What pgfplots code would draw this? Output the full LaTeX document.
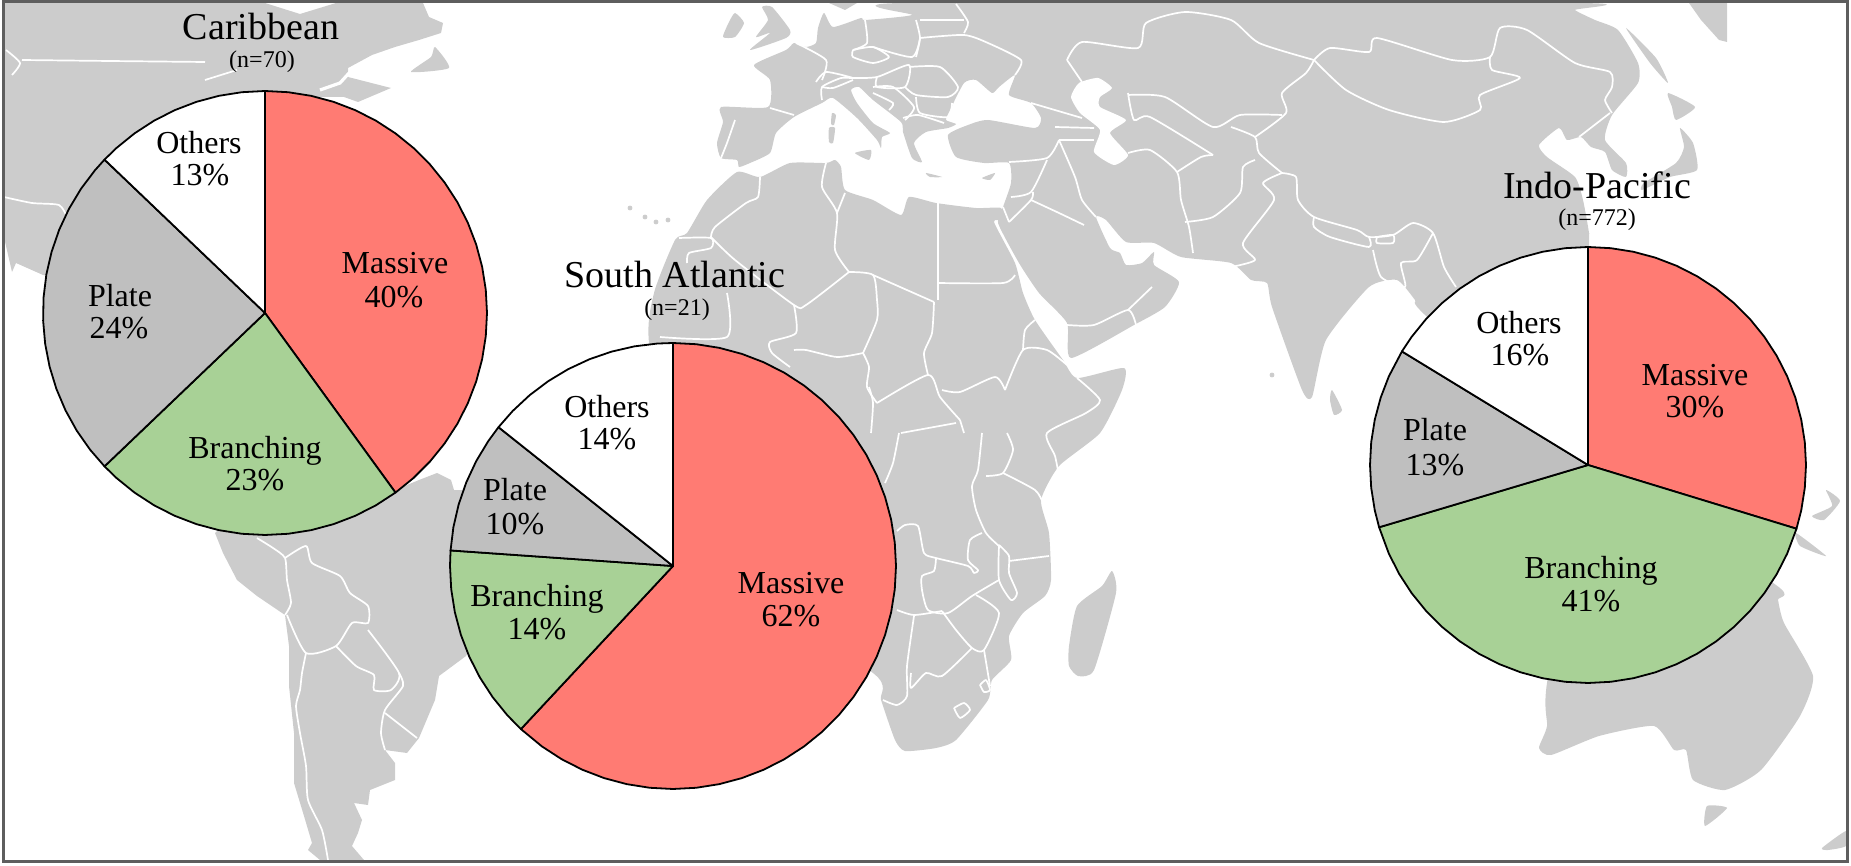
\documentclass[border=0pt]{standalone}
\usepackage{fontspec}
\setmainfont{Liberation Serif}
\usepackage{pgfplots}
\pgfplotsset{compat=1.18}
\definecolor{land}{HTML}{CCCCCC}
\definecolor{massive}{HTML}{FF7B73}
\definecolor{branching}{HTML}{A8D196}
\definecolor{plate}{HTML}{BFBFBF}
\definecolor{framegray}{HTML}{5E5E5E}
% one picture pixel = 0.5pt
\pgfplotsset{
  pxaxis/.style={scale only axis,width=925.5pt,height=433pt,xmin=0,xmax=1851,ymin=0,ymax=866,
    y dir=reverse,hide axis,at={(0pt,0pt)},anchor=south west},
  pieaxis/.style={scale only axis,width=#1,height=#1,xmin=-1,xmax=1,ymin=-1,ymax=1,
    hide axis,clip=false,anchor=center},
  wedge/.style={draw=black,line width=0.9pt,line join=round,data cs=polar},
  lnd/.style={fill=land,draw=none,/tikz/smooth cycle,/tikz/tension=0.35},
  bord/.style={white,line width=0.85pt,line join=round,smooth,tension=0.4},
  sea/.style={fill=white,draw=none,/tikz/smooth cycle,/tikz/tension=0.35},
}
\newcommand{\bd}[1]{\addplot[bord] coordinates {#1};}
\newcommand{\isl}[1]{\addplot[lnd] coordinates {#1};}
\tikzset{
  lab/.style={font=\fontsize{16}{18}\selectfont,text height=0.7em,text depth=0.2em,inner sep=0pt,yshift=-3pt},
  ttl/.style={font=\fontsize{19}{21}\selectfont,inner sep=0pt},
  sub/.style={font=\fontsize{12}{14}\selectfont,inner sep=0pt},
}
\begin{document}
\begin{tikzpicture}
\useasboundingbox (0,0) rectangle (925.5pt,433pt);
% ---- map
\begin{axis}[pxaxis]
% North America
\addplot[fill=land,draw=none] coordinates {(3,3)(265,3)(300,14)(336,3)(423,3)(429,17)(443,23)(441,33)(419,40)(395,47)(372,55)(348,68)(348,77)(391,88)(358,102)(344,97)(316,97)(265,313)(43,275)(16,263)(12,272)(3,233)} -- cycle;
\isl{(435,47)(449,68)(411,72)(431,57)}
% South America
\addplot[fill=land,draw=none] coordinates {(215,533)(223,553)(237,580)(257,596)(285,615)(289,646)(289,686)(294,733)(294,783)(304,816)(312,843)(308,850)(320,860)(364,860)(352,846)(358,833)(362,820)(354,803)(368,805)(370,790)(395,780)(395,763)(385,750)(407,753)(419,738)(435,700)(439,676)(466,656)(520,560)(500,480)(466,490)(454,490)(451,480)(437,473)(419,480)(395,490)(300,450)} -- cycle;
% Africa
\isl{(737,172)(760,177)(790,163)(826,163)(835,160)(841,167)(845,190)(873,200)(901,215)(909,197)(936,203)(976,208)(1001,208)(1003,220)(994,222)(1015,263)(1023,293)(1035,320)(1063,360)(1077,378)(1124,368)(1122,390)(1100,433)(1059,466)(1041,500)(1049,533)(1051,580)(1045,596)(1023,613)(1009,636)(1011,660)(992,680)(988,700)(956,740)(936,748)(905,751)(895,740)(881,700)(873,673)(700,560)(650,350)(654,293)(675,240)(687,233)(707,200)}
% Eurasia
\isl{(901,3)(912,15)(865,20)(861,18)(833,27)(824,13)(818,28)(816,43)(806,47)(794,43)(786,50)(754,65)(770,80)(768,107)(721,107)(723,122)(717,143)(721,158)(737,160)(739,167)(750,163)(770,153)(776,133)(794,117)(822,103)(833,98)(857,118)(877,140)(881,148)(882,137)(890,133)(873,123)(857,103)(851,90)(859,87)(873,100)(901,122)(903,132)(912,158)(922,162)(914,143)(926,132)(948,128)(956,124)(946,120)(950,110)(964,83)(976,80)(992,93)(999,87)(1015,75)(1009,95)(1031,103)(1041,118)(1035,128)(988,120)(968,125)(948,135)(956,157)(984,163)(1009,163)(1011,183)(1003,207)(998,223)(1019,263)(1039,293)(1067,323)(1071,358)(1134,325)(1165,307)(1179,282)(1154,265)(1154,252)(1142,263)(1126,265)(1120,253)(1110,248)(1096,217)(1106,220)(1126,242)(1154,243)(1181,257)(1231,263)(1251,280)(1267,283)(1272,307)(1302,390)(1312,397)(1326,340)(1369,287)(1397,280)(1415,300)(1425,315)(1588,465)(1589,247)(1589,233)(1583,200)(1575,177)(1547,157)(1539,145)(1559,128)(1567,140)(1581,137)(1591,147)(1605,152)(1612,170)(1626,177)(1626,163)(1605,140)(1612,115)(1638,83)(1638,63)(1618,30)(1595,20)(1575,10)(1579,3)}
% islands
\addplot[fill=land,draw=none] coordinates {(1689,3)(1727,3)(1727,42)(1719,40)(1701,20)} -- cycle;
\isl{(1626,28)(1656,58)(1668,83)(1650,63)}
\isl{(1668,93)(1695,107)(1676,120)(1672,107)}
\isl{(1680,128)(1693,143)(1697,170)(1670,177)(1642,190)(1644,183)(1676,163)(1684,147)}
\isl{(1332,390)(1342,410)(1334,415)(1330,400)}
\isl{(1112,571)(1116,593)(1094,670)(1078,676)(1069,666)(1069,646)(1077,606)(1102,586)}
\isl{(982,178)(995,173)(990,180)}
\isl{(926,173)(942,177)(930,177)}
\isl{(855,153)(871,150)(869,160)}
\isl{(829,128)(835,128)(833,143)(829,142)}
\isl{(832,113)(836,115)(834,125)(831,124)}
\isl{(762,7)(772,7)(790,30)(786,38)(750,50)(770,33)(756,37)(768,20)}
\isl{(735,13)(744,23)(735,37)(723,37)(729,22)}
\addplot[fill=land,draw=none] coordinates {(829,3)(857,3)(845,10)} -- cycle;
% Australia and the islands east of it
\isl{(1547,683)(1547,726)(1539,748)(1551,755)(1599,736)(1654,726)(1674,750)(1686,750)(1693,780)(1725,790)(1761,770)(1800,716)(1813,676)(1784,623)(1778,600)(1776,585)(1588,465)}
\isl{(1707,806)(1727,808)(1705,826)}
\isl{(1822,848)(1846,831)(1846,846)(1828,850)}
\isl{(1796,533)(1826,556)(1800,546)}
\isl{(1812,516)(1832,506)(1826,490)(1840,501)(1824,520)}
% Canaries and small dots
\addplot[only marks,mark=*,mark size=1pt,land] coordinates {(630,208)(645,217)(656,222)(668,220)(1272,375)};
% Caspian
\addplot[sea] coordinates {(1071,97)(1079,83)(1098,78)(1112,88)(1100,97)(1100,107)(1126,120)(1110,133)(1128,155)(1114,165)(1094,152)(1100,130)(1080,113)};
% St Lawrence
\addplot[white,line width=1.6pt,sharp plot] coordinates {(350,72)(340,83)(320,90)};
% North America borders
\bd{(22,60)(110,61)(205,62)}
\bd{(205,80)(237,70)}
\bd{(4,197)(32,203)(59,205)(67,217)}
\bd{(6,50)(20,63)(12,75)}
% South America borders
\bd{(257,538)(273,548)(285,558)(287,580)(291,603)(285,615)}
\bd{(285,558)(306,546)(312,563)(340,576)(350,593)(368,606)(368,623)(352,623)(336,646)(306,653)(287,615)}
\bd{(306,653)(302,673)(300,690)(296,706)(300,733)(306,766)(308,800)(322,830)(328,860)}
\bd{(336,646)(356,666)(374,675)(374,690)(391,690)(399,673)(368,630)}
\bd{(399,673)(403,686)(385,710)(381,733)(385,750)}
\bd{(385,713)(417,738)}
% Africa borders
\bd{(760,177)(758,197)(746,203)(715,227)(711,237)}
\bd{(711,237)(735,260)(794,305)(806,305)(849,272)}
\bd{(679,238)(711,238)(711,248)(689,253)(687,263)}
\bd{(727,293)(727,337)(660,337)}
\bd{(794,305)(796,333)(770,342)(772,353)(790,367)}
\bd{(794,350)(806,350)(837,357)(863,353)}
\bd{(849,272)(873,275)(877,300)(877,320)(863,353)}
\bd{(826,163)(822,187)(837,213)(835,250)(849,272)}
\bd{(845,193)(837,213)}
\bd{(938,203)(938,300)}
\bd{(873,275)(934,302)}
\bd{(938,283)(1003,283)(1015,275)}
\bd{(934,302)(932,333)(924,353)(928,375)}
\bd{(863,353)(869,367)(867,387)(877,403)}
\bd{(877,403)(928,375)(940,397)(960,420)}
\bd{(1005,390)(1023,350)(1047,350)(1067,365)}
\bd{(1023,350)(1025,330)(1035,320)}
\bd{(942,390)(960,392)(995,377)(1005,390)}
\bd{(1077,378)(1100,400)(1086,413)(1047,433)(1055,456)(1059,476)}
\bd{(982,433)(978,470)(972,486)(976,510)(986,533)(999,546)}
\bd{(986,476)(1003,473)(1013,450)(1007,433)}
\bd{(1003,473)(1035,490)(1043,503)}
\bd{(999,545)(1009,556)(1009,573)(1017,593)(1011,600)(999,580)(999,546)}
\bd{(1009,561)(1049,556)}
\bd{(897,531)(905,525)(918,526)(924,553)(936,558)(968,566)(974,573)(978,570)(968,560)(970,540)(982,533)}
\bd{(936,558)(934,571)(922,576)(922,590)(928,610)(948,613)(972,596)(999,580)}
\bd{(897,610)(914,615)(942,611)}
\bd{(914,616)(907,666)(907,696)(897,705)(883,700)}
\bd{(911,673)(911,688)(926,673)(942,676)(972,648)}
\bd{(942,611)(956,630)(972,648)(984,650)(999,613)(976,595)}
\bd{(984,650)(990,686)}
\bd{(954,708)(964,703)(970,710)(960,718)(954,708)}
\bd{(980,685)(986,680)(990,690)(984,692)(980,685)}
\bd{(899,433)(893,463)(885,483)}
\bd{(869,387)(873,403)(871,433)}
\bd{(901,433)(956,423)}
\bd{(960,420)(964,433)}
% Asia borders
\bd{(1009,162)(1047,158)(1059,140)}
\bd{(1059,140)(1075,177)(1082,200)(1096,217)}
\bd{(1011,197)(1031,192)(1047,160)}
\bd{(1009,222)(1031,200)(1033,192)}
\bd{(1003,207)(1009,222)}
\bd{(1031,200)(1059,213)(1084,225)}
\bd{(1128,153)(1150,150)(1177,172)(1181,200)(1189,227)(1193,253)}
\bd{(1067,325)(1094,325)(1128,310)(1136,325)}
\bd{(1128,310)(1152,287)}
\bd{(1185,222)(1213,217)(1240,193)(1243,167)(1255,160)}
\bd{(1177,172)(1201,157)(1213,155)}
\bd{(1128,93)(1134,120)(1150,117)(1213,155)}
\bd{(1128,95)(1165,97)(1213,127)(1240,115)(1282,115)}
\bd{(1067,60)(1082,42)(1138,48)(1146,23)(1185,12)(1231,20)(1259,43)(1314,60)}
\bd{(1067,60)(1082,82)}
\bd{(1031,103)(1082,118)}
\bd{(1055,127)(1094,128)}
\bd{(1059,140)(1094,140)}
% Europe borders
\bd{(920,38)(964,35)(988,43)(1021,60)(1015,75)}
\bd{(916,20)(920,38)(916,57)}
\bd{(964,33)(968,22)(956,4)}
\bd{(920,20)(964,20)}
\bd{(865,20)(867,43)(853,50)}
\bd{(853,50)(873,47)(889,57)(873,63)(853,57)(853,50)}
\bd{(873,47)(912,57)(920,38)}
\bd{(796,43)(826,60)(822,80)}
\bd{(816,82)(826,72)(853,78)(841,78)(822,87)(822,100)}
\bd{(853,78)(877,77)(909,65)(905,87)(877,87)(877,77)}
\bd{(909,67)(940,67)(958,87)(948,97)(916,95)(905,87)}
\bd{(916,97)(920,113)(948,117)(952,103)}
\bd{(873,87)(893,87)(914,107)(905,120)}
\bd{(903,118)(918,115)(944,123)}
\bd{(873,93)(893,103)(889,110)}
\bd{(822,87)(833,88)(853,80)}
\bd{(770,108)(794,115)}
\bd{(735,120)(727,143)(721,158)}
% Central and East Asia borders
\bd{(1314,60)(1330,48)(1369,52)(1377,38)(1452,60)(1490,57)(1500,28)(1527,30)(1575,63)(1610,72)(1612,87)(1605,100)(1612,113)}
\bd{(1314,60)(1346,90)(1389,110)(1444,122)(1480,110)(1480,95)(1520,78)(1492,70)(1490,57)}
\bd{(1314,60)(1306,73)(1282,93)(1286,113)(1255,137)}
\bd{(1231,127)(1255,137)(1259,153)(1282,173)}
\bd{(1282,173)(1296,177)(1298,200)(1314,217)(1357,230)(1369,237)(1393,235)(1413,223)(1433,233)(1444,267)(1456,287)}
\bd{(1314,217)(1314,227)(1330,237)(1369,247)(1369,237)}
\bd{(1377,237)(1393,235)(1393,243)(1377,243)(1377,237)}
\bd{(1373,250)(1381,277)(1405,287)(1401,263)(1417,260)(1433,233)}
\bd{(1282,173)(1263,183)(1274,200)(1243,243)(1255,260)(1231,267)}
\bd{(1579,137)(1610,113)}
% frame
\addplot[draw=framegray,line width=1.5pt] coordinates {(3,2)(1847,2)(1847,861)(3,861)} -- cycle;
\end{axis}
% ---- Caribbean
\begin{axis}[pieaxis=222pt,at={(132.5pt,276.5pt)}]
\addplot[wedge,fill=massive] coordinates {(0,0)(90,1)(84,1)(78,1)(72,1)(66,1)(60,1)(54,1)(48,1)(42,1)(36,1)(30,1)(24,1)(18,1)(12,1)(6,1)(0,1)(-6,1)(-12,1)(-18,1)(-24,1)(-30,1)(-36,1)(-42,1)(-48,1)(-54,1)} -- cycle;
\addplot[wedge,fill=branching] coordinates {(0,0)(-54,1)(-60,1)(-66,1)(-72,1)(-78,1)(-84,1)(-90,1)(-96,1)(-102,1)(-108,1)(-114,1)(-120,1)(-126,1)(-132,1)(-136.3,1)} -- cycle;
\addplot[wedge,fill=plate] coordinates {(0,0)(-136.3,1)(-142,1)(-148,1)(-154,1)(-160,1)(-166,1)(-172,1)(-178,1)(-184,1)(-190,1)(-196,1)(-202,1)(-208,1)(-214,1)(-220,1)(-223.7,1)} -- cycle;
\addplot[wedge,fill=white] coordinates {(0,0)(-223.7,1)(-228,1)(-234,1)(-240,1)(-246,1)(-252,1)(-258,1)(-264,1)(-270,1)} -- cycle;
\end{axis}
% ---- South Atlantic
\begin{axis}[pieaxis=223pt,at={(336.5pt,150pt)}]
\addplot[wedge,fill=massive] coordinates {(0,0)(90,1)(84,1)(78,1)(72,1)(66,1)(60,1)(54,1)(48,1)(42,1)(36,1)(30,1)(24,1)(18,1)(12,1)(6,1)(0,1)(-6,1)(-12,1)(-18,1)(-24,1)(-30,1)(-36,1)(-42,1)(-48,1)(-54,1)(-60,1)(-66,1)(-72,1)(-78,1)(-84,1)(-90,1)(-96,1)(-102,1)(-108,1)(-114,1)(-120,1)(-126,1)(-133,1)} -- cycle;
\addplot[wedge,fill=branching] coordinates {(0,0)(-133,1)(-138,1)(-144,1)(-150,1)(-156,1)(-162,1)(-168,1)(-174,1)(-180,1)(-184,1)} -- cycle;
\addplot[wedge,fill=plate] coordinates {(0,0)(-184,1)(-190,1)(-196,1)(-202,1)(-208,1)(-214,1)(-218.5,1)} -- cycle;
\addplot[wedge,fill=white] coordinates {(0,0)(-218.5,1)(-224,1)(-230,1)(-236,1)(-242,1)(-248,1)(-254,1)(-260,1)(-266,1)(-270,1)} -- cycle;
\end{axis}
% ---- Indo-Pacific
\begin{axis}[pieaxis=218pt,at={(794pt,200.5pt)}]
\addplot[wedge,fill=massive] coordinates {(0,0)(90,1)(84,1)(78,1)(72,1)(66,1)(60,1)(54,1)(48,1)(42,1)(36,1)(30,1)(24,1)(18,1)(12,1)(6,1)(0,1)(-6,1)(-12,1)(-17,1)} -- cycle;
\addplot[wedge,fill=branching] coordinates {(0,0)(-17,1)(-24,1)(-30,1)(-36,1)(-42,1)(-48,1)(-54,1)(-60,1)(-66,1)(-72,1)(-78,1)(-84,1)(-90,1)(-96,1)(-102,1)(-108,1)(-114,1)(-120,1)(-126,1)(-132,1)(-138,1)(-144,1)(-150,1)(-156,1)(-163.4,1)} -- cycle;
\addplot[wedge,fill=plate] coordinates {(0,0)(-163.4,1)(-168,1)(-174,1)(-180,1)(-186,1)(-192,1)(-198,1)(-204,1)(-211.4,1)} -- cycle;
\addplot[wedge,fill=white] coordinates {(0,0)(-211.4,1)(-216,1)(-222,1)(-228,1)(-234,1)(-240,1)(-246,1)(-252,1)(-258,1)(-264,1)(-270,1)} -- cycle;
\end{axis}
% ---- labels
\begin{axis}[pxaxis,clip=false]
\node[ttl] at (axis cs:261,27) {Caribbean};
\node[sub] at (axis cs:262,62) {(n=70)};
\node[lab] at (axis cs:199,143) {Others};
\node[lab] at (axis cs:200,175) {13\%};
\node[lab] at (axis cs:395,263) {Massive};
\node[lab] at (axis cs:394,297) {40\%};
\node[lab] at (axis cs:120,296) {Plate};
\node[lab] at (axis cs:119,328) {24\%};
\node[lab] at (axis cs:255,448) {Branching};
\node[lab] at (axis cs:255,480) {23\%};
\node[ttl] at (axis cs:675,275) {South Atlantic};
\node[sub] at (axis cs:677,310) {(n=21)};
\node[lab] at (axis cs:607,407) {Others};
\node[lab] at (axis cs:607,439) {14\%};
\node[lab] at (axis cs:515,490) {Plate};
\node[lab] at (axis cs:515,523) {10\%};
\node[lab] at (axis cs:537,595) {Branching};
\node[lab] at (axis cs:537,628) {14\%};
\node[lab] at (axis cs:791,582) {Massive};
\node[lab] at (axis cs:791,615) {62\%};
\node[ttl] at (axis cs:1597,185) {Indo-Pacific};
\node[sub] at (axis cs:1597,220) {(n=772)};
\node[lab] at (axis cs:1519,323) {Others};
\node[lab] at (axis cs:1520,355) {16\%};
\node[lab] at (axis cs:1695,375) {Massive};
\node[lab] at (axis cs:1695,407) {30\%};
\node[lab] at (axis cs:1435,430) {Plate};
\node[lab] at (axis cs:1435,465) {13\%};
\node[lab] at (axis cs:1591,567) {Branching};
\node[lab] at (axis cs:1591,600) {41\%};
\end{axis}
\end{tikzpicture}
\end{document}
